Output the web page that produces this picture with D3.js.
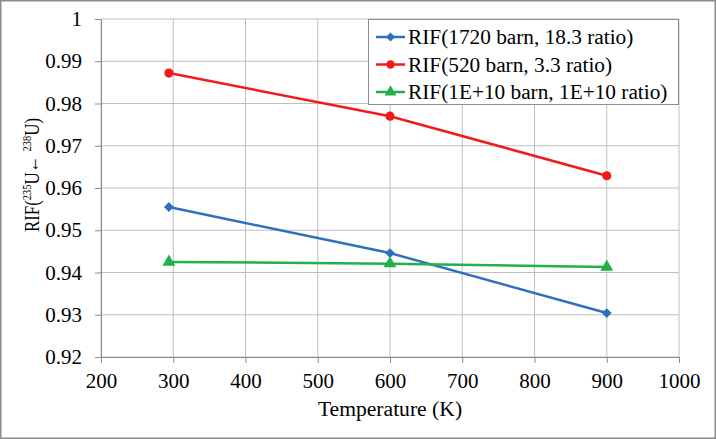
<!DOCTYPE html>
<html><head><meta charset="utf-8">
<script src="https://cdn.jsdelivr.net/npm/d3@7"></script>
<style>
body{margin:0;background:#fff;}
svg{display:block;}
text{font-family:"Liberation Serif","Times New Roman",serif;fill:#000;}
</style></head>
<body>
<script>
const temperatures = [294, 600, 900];
const seriesNames = ["RIF(1720 barn, 18.3 ratio)", "RIF(520 barn, 3.3 ratio)", "RIF(1E+10 barn, 1E+10 ratio)"];
const blueValues = [0.9555, 0.9446, 0.9304];
const redValues = [0.9872, 0.9770, 0.9629];
const greenValues = [0.9425, 0.9421, 0.9413];
const xTicks = [200, 300, 400, 500, 600, 700, 800, 900, 1000];
const yTicks = [0.92, 0.93, 0.94, 0.95, 0.96, 0.97, 0.98, 0.99, 1];
const colors = ["#2f6fc0", "#f01c1c", "#22b04c"];
const symbols = [d3.symbolDiamond2 || d3.symbolDiamond, d3.symbolCircle, d3.symbolTriangle];
const symSizes = [62, 66, 72];

const W = 716, H = 439;
const FS = "21px";
const m = {left: 101, right: 37, top: 19, bottom: 82};
const svg = d3.select("body").append("svg").attr("width", W).attr("height", H);
svg.append("rect").attr("x", 0.75).attr("y", 0.75).attr("width", W - 1.5).attr("height", H - 1.5)
  .attr("fill", "#fff").attr("stroke", "#8c8c8c").attr("stroke-width", 1.5);

const x = d3.scaleLinear().domain([200, 1000]).range([m.left, W - m.right]);
const y = d3.scaleLinear().domain([0.92, 1]).range([H - m.bottom, m.top]);

const g = svg.append("g");
g.selectAll(".vg").data(xTicks).join("line")
  .attr("x1", d => x(d)).attr("x2", d => x(d)).attr("y1", y(0.92)).attr("y2", y(1))
  .attr("stroke", "#bfbfbf").attr("stroke-width", 1);
g.selectAll(".hg").data(yTicks).join("line")
  .attr("x1", x(200)).attr("x2", x(1000)).attr("y1", d => y(d)).attr("y2", d => y(d))
  .attr("stroke", "#bfbfbf").attr("stroke-width", 1);

const xAxis = d3.axisBottom(x).tickValues(xTicks).tickSize(6).tickPadding(10).tickFormat(d3.format("d"));
const yAxis = d3.axisLeft(y).tickValues(yTicks).tickSize(6).tickPadding(13).tickFormat(d => d === 1 ? "1" : d3.format(".2f")(d));
const xa = svg.append("g").attr("transform", `translate(0,${y(0.92)})`).call(xAxis);
const ya = svg.append("g").attr("transform", `translate(${x(200)},0)`).call(yAxis);
[xa, ya].forEach(a => {
  a.selectAll("path, line").attr("stroke", "#8c8c8c");
  a.selectAll("text").style("font-family", "'Liberation Serif','Times New Roman',serif").style("font-size", FS).attr("fill", "#000");
});

const allSeries = [blueValues, redValues, greenValues];
const line = d3.line().x((d, i) => x(temperatures[i])).y(d => y(d));
allSeries.forEach((vals, si) => {
  svg.append("path").datum(vals).attr("d", line).attr("fill", "none")
    .attr("stroke", colors[si]).attr("stroke-width", 2.5);
});
allSeries.forEach((vals, si) => {
  svg.selectAll(".m" + si).data(vals).join("path")
    .attr("transform", (d, i) => `translate(${x(temperatures[i])},${y(d)})`)
    .attr("d", d3.symbol().type(symbols[si]).size(symSizes[si]))
    .attr("fill", colors[si]);
});

const lg = svg.append("g");
lg.append("rect").attr("x", 368.5).attr("y", 19.5).attr("width", 310).attr("height", 85)
  .attr("fill", "#fff").attr("stroke", "#8c8c8c").attr("stroke-width", 1);
seriesNames.forEach((name, i) => {
  const yy = 37 + i * 27.5;
  lg.append("line").attr("x1", 376).attr("x2", 405).attr("y1", yy).attr("y2", yy)
    .attr("stroke", colors[i]).attr("stroke-width", 2.5);
  lg.append("path").attr("transform", `translate(390.5,${yy})`)
    .attr("d", d3.symbol().type(symbols[i]).size(symSizes[i] * 0.85)).attr("fill", colors[i]);
  lg.append("text").attr("x", 408).attr("y", yy).attr("dy", "0.35em")
    .style("font-size", "21.3px").text(name);
});

svg.append("text").attr("x", x(600)).attr("y", 416).attr("text-anchor", "middle")
  .style("font-size", "21.6px").text("Temperature (K)");
const yt = svg.append("text").attr("transform", `translate(39,175) rotate(-90)`)
  .attr("text-anchor", "middle").style("font-size", FS)
  .attr("textLength", 114).attr("lengthAdjust", "spacingAndGlyphs");
yt.append("tspan").text("RIF(");
yt.append("tspan").attr("dy", -8).style("font-size", "13px").text("235");
yt.append("tspan").attr("dy", 8).text("U\u2190 ");
yt.append("tspan").attr("dy", -8).style("font-size", "13px").text("238");
yt.append("tspan").attr("dy", 8).text("U)");
</script>
</body></html>
